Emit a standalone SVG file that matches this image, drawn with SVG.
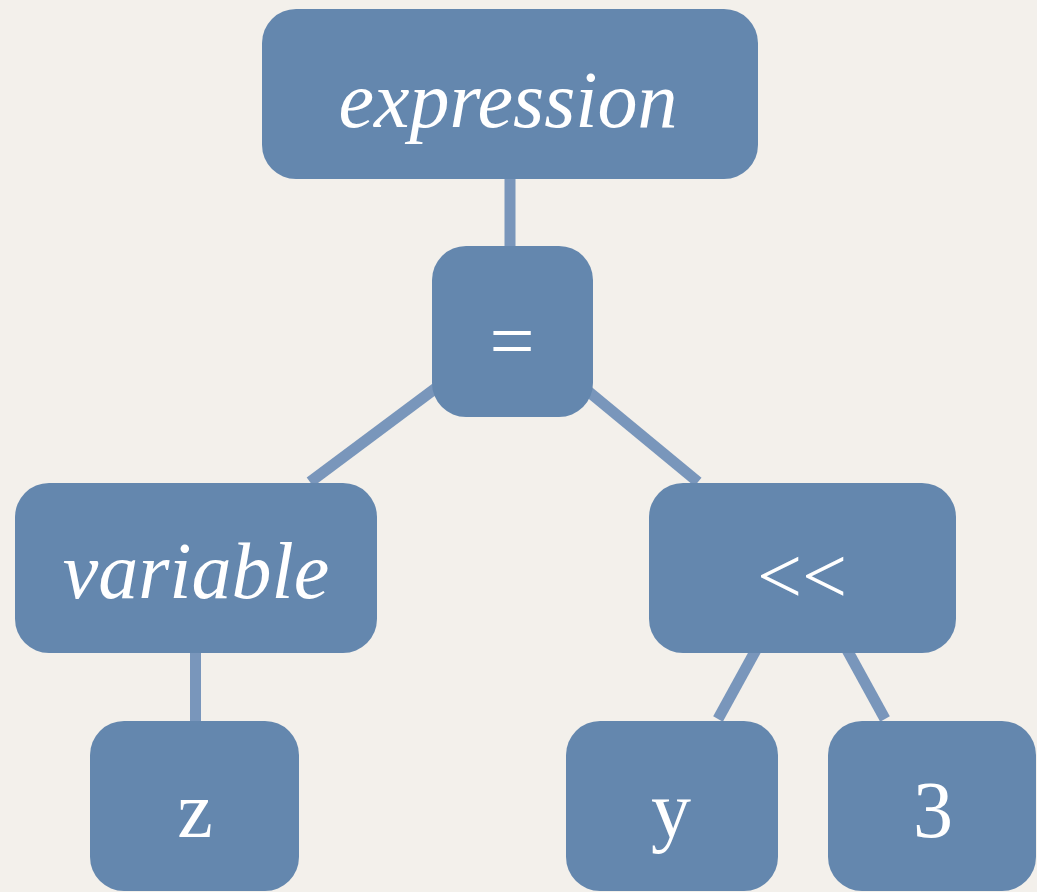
<svg xmlns="http://www.w3.org/2000/svg" width="1037" height="892" viewBox="0 0 1037 892">
<style>
.box{fill:#6487ae}
.lbl{fill:#ffffff;font-family:"Liberation Serif","Times New Roman",serif;font-size:80px;text-anchor:middle}
.it{font-style:italic}
.edge{stroke:#7996bb;stroke-width:11;fill:none}
</style>
<rect x="0" y="0" width="1037" height="892" fill="#f3f0eb"/>
<g id="connectors">
<line class="edge" x1="510" y1="170" x2="510" y2="256"/>
<line class="edge" x1="440" y1="385" x2="310" y2="482"/>
<line class="edge" x1="583" y1="387" x2="698" y2="482"/>
<line class="edge" x1="195.5" y1="645" x2="195.5" y2="730"/>
<line class="edge" x1="757" y1="648" x2="718" y2="719"/>
<line class="edge" x1="846" y1="648" x2="885" y2="719"/>
</g>
<g id="node-expression">
<rect class="box" x="262" y="9" width="496" height="170" rx="34"/>
<text class="lbl it" x="508" y="127">expression</text>
</g>
<g id="node-assign">
<rect class="box" x="432" y="246" width="161" height="171" rx="34"/>
<text class="lbl" x="512" y="368" font-size="86">=</text>
</g>
<g id="node-variable">
<rect class="box" x="15" y="483" width="362" height="170" rx="34"/>
<text class="lbl it" x="196" y="598" font-size="77">variable</text>
</g>
<g id="node-shift">
<rect class="box" x="649" y="483" width="307" height="170" rx="34"/>
<text class="lbl" x="802" y="603">&lt;&lt;</text>
</g>
<g id="node-z">
<rect class="box" x="90" y="721" width="209" height="170" rx="34"/>
<text class="lbl" x="195" y="837">z</text>
</g>
<g id="node-y">
<rect class="box" x="566" y="721" width="212" height="170" rx="34"/>
<text class="lbl" x="671" y="837">y</text>
</g>
<g id="node-3">
<rect class="box" x="828" y="721" width="208" height="170" rx="34"/>
<text class="lbl" x="933" y="837">3</text>
</g>
</svg>
